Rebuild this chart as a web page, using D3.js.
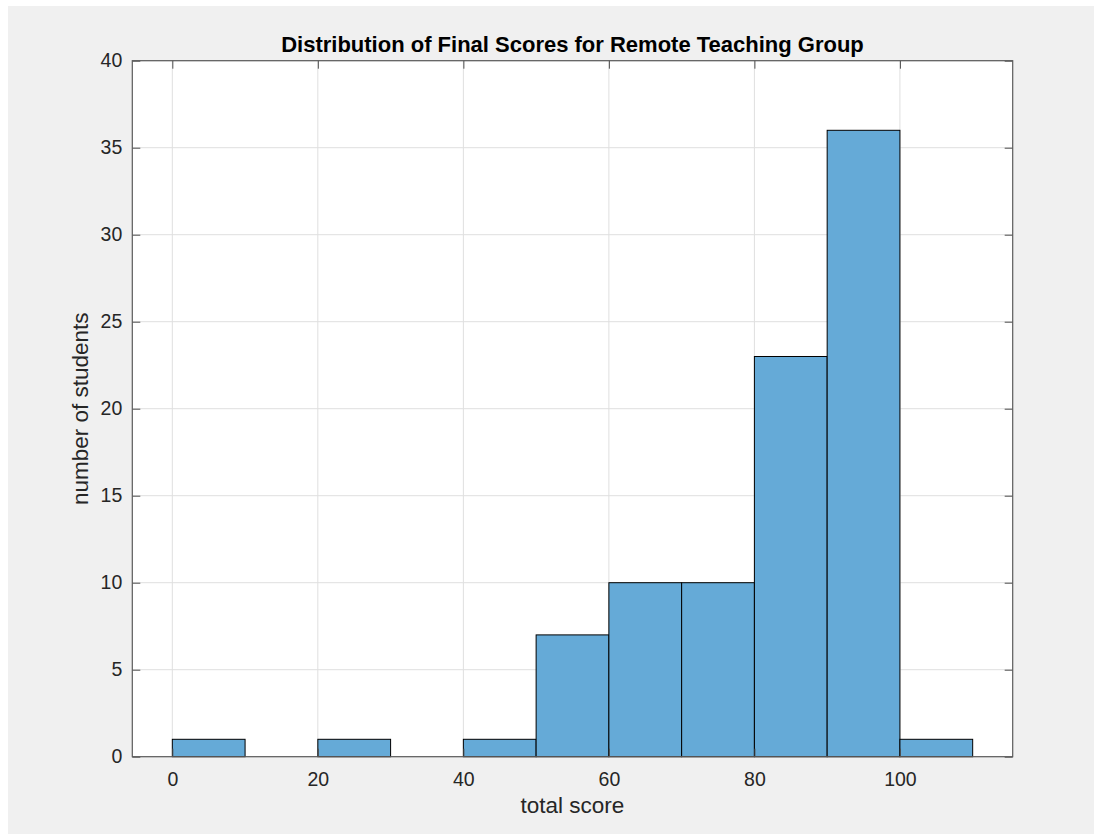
<!DOCTYPE html>
<html>
<head>
<meta charset="utf-8">
<script src="https://cdn.jsdelivr.net/npm/d3@7"></script>
<style>
  body { margin: 0; background: #ffffff; }
  svg { display: block; font-family: "Liberation Sans", Arial, Helvetica, sans-serif; }
</style>
</head>
<body>
<div id="chart"></div>
<script>
// histogram bins (left edges) and counts
const binEdges = [0, 10, 20, 30, 40, 50, 60, 70, 80, 90, 100, 110];
const counts = [1, 0, 1, 0, 1, 7, 10, 10, 23, 36, 1];
const xTicks = [0, 20, 40, 60, 80, 100];
const yTicks = [0, 5, 10, 15, 20, 25, 30, 35, 40];

const W = 1094, H = 834;
const margin = { left: 132.3, top: 60.7, right: 1094 - 1012.7, bottom: 834 - 756.7 };
const width = W - margin.left - margin.right;
const height = H - margin.top - margin.bottom;

const svg = d3.select('#chart')
  .append('svg')
  .attr('width', W)
  .attr('height', H);

// figure background
svg.append('rect')
  .attr('x', 8).attr('y', 6)
  .attr('width', W - 8).attr('height', H - 6)
  .attr('fill', '#f0f0f0');

const g = svg.append('g')
  .attr('transform', `translate(${margin.left},${margin.top})`);

const x = d3.scaleLinear().domain([-5.5, 115.5]).range([0, width]);
const y = d3.scaleLinear().domain([0, 40]).range([height, 0]);

// axes area
g.append('rect')
  .attr('width', width)
  .attr('height', height)
  .attr('fill', '#ffffff');

// grid lines
g.selectAll('.gx')
  .data(xTicks)
  .enter()
  .append('line')
  .attr('x1', (d) => x(d)).attr('x2', (d) => x(d))
  .attr('y1', 0).attr('y2', height)
  .attr('stroke', '#dfdfdf')
  .attr('stroke-width', 1);

g.selectAll('.gy')
  .data(yTicks)
  .enter()
  .append('line')
  .attr('x1', 0).attr('x2', width)
  .attr('y1', (d) => y(d)).attr('y2', (d) => y(d))
  .attr('stroke', '#dfdfdf')
  .attr('stroke-width', 1);

// bars
const bins = counts.map((c, i) => ({ x0: binEdges[i], x1: binEdges[i + 1], n: c }));
g.selectAll('.bar')
  .data(bins.filter((d) => d.n > 0))
  .enter()
  .append('rect')
  .attr('x', (d) => x(d.x0))
  .attr('y', (d) => y(d.n))
  .attr('width', (d) => x(d.x1) - x(d.x0))
  .attr('height', (d) => y(0) - y(d.n))
  .attr('fill', '#65aad7')
  .attr('stroke', '#000000')
  .attr('stroke-width', 1);

// axes (ticks point inward, like matlab)
const tickColor = '#4d4d4d';
const xAxis = d3.axisBottom(x).tickValues(xTicks).tickSize(-8).tickPadding(15);
const xAxisTop = d3.axisTop(x).tickValues(xTicks).tickSize(-8).tickFormat('');
const yAxis = d3.axisLeft(y).tickValues(yTicks).tickSize(-8).tickPadding(10);
const yAxisRight = d3.axisRight(y).tickValues(yTicks).tickSize(-8).tickFormat('');

function styleAxis(sel) {
  sel.select('.domain').remove();
  sel.selectAll('line').attr('stroke', tickColor);
  sel.selectAll('text')
    .attr('fill', '#262626')
    .style('font-size', '19.5px');
}

g.append('g').attr('transform', `translate(0,${height})`).call(xAxis).call(styleAxis);
g.append('g').call(xAxisTop).call(styleAxis);
g.append('g').call(yAxis).call(styleAxis);
g.append('g').attr('transform', `translate(${width},0)`).call(yAxisRight).call(styleAxis);

// box
g.append('rect')
  .attr('width', width)
  .attr('height', height)
  .attr('fill', 'none')
  .attr('stroke', '#5a5a5a')
  .attr('stroke-width', 1.2);

// title
g.append('text')
  .attr('x', width / 2)
  .attr('y', -9)
  .attr('text-anchor', 'middle')
  .attr('fill', '#000000')
  .style('font-size', '22px')
  .style('font-weight', 'bold')
  .text('Distribution of Final Scores for Remote Teaching Group');

// axis labels
g.append('text')
  .attr('x', width / 2)
  .attr('y', 813.3 - margin.top)
  .attr('text-anchor', 'middle')
  .attr('fill', '#262626')
  .style('font-size', '22.5px')
  .text('total score');

g.append('text')
  .attr('transform', `translate(${88 - margin.left},${height / 2}) rotate(-90)`)
  .attr('text-anchor', 'middle')
  .attr('fill', '#262626')
  .style('font-size', '22.5px')
  .text('number of students');
</script>
</body>
</html>
